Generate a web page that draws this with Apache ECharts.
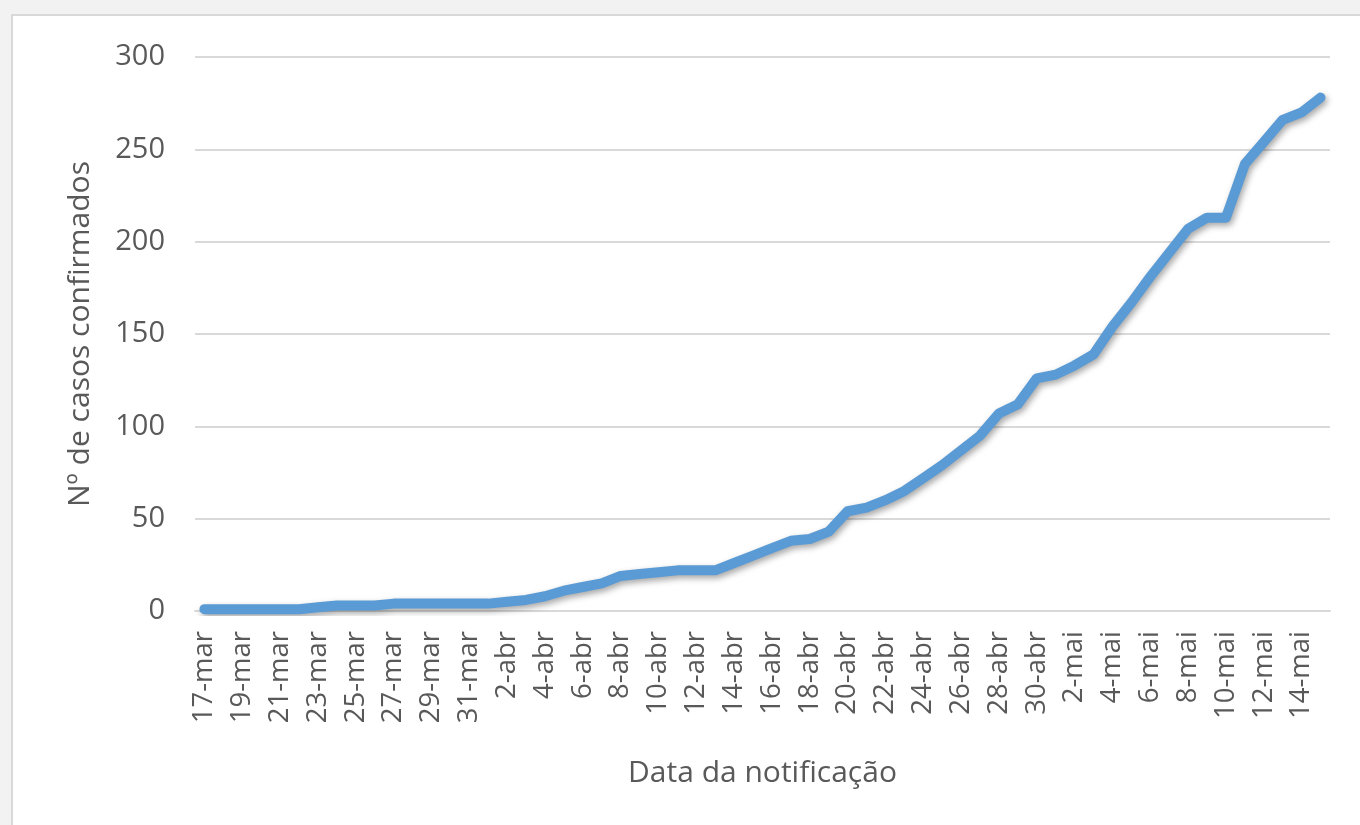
<!DOCTYPE html>
<html>
<head>
<meta charset="utf-8">
<script src="https://cdn.jsdelivr.net/npm/echarts@6/dist/echarts.min.js"></script>
<style>
    html, body { margin: 0; padding: 0; background: #f2f2f2; }
    #frame { position: absolute; left: 11px; top: 14px; width: 1349px; height: 811px;
             background: #ffffff; border-left: 2px solid #d9d9d9; border-top: 2px solid #d9d9d9; }
    #chart { position: absolute; left: 0; top: 0; width: 1360px; height: 825px; }
</style>
</head>
<body>
<div id="frame"></div>
<div id="chart"></div>
<script>
const marDays = ['17-mar', '18-mar', '19-mar', '20-mar', '21-mar', '22-mar', '23-mar', '24-mar',
    '25-mar', '26-mar', '27-mar', '28-mar', '29-mar', '30-mar', '31-mar']
const abrDays = ['1-abr', '2-abr', '3-abr', '4-abr', '5-abr', '6-abr', '7-abr', '8-abr', '9-abr', '10-abr',
    '11-abr', '12-abr', '13-abr', '14-abr', '15-abr', '16-abr', '17-abr', '18-abr', '19-abr', '20-abr',
    '21-abr', '22-abr', '23-abr', '24-abr', '25-abr', '26-abr', '27-abr', '28-abr', '29-abr', '30-abr']
const maiDays = ['1-mai', '2-mai', '3-mai', '4-mai', '5-mai', '6-mai', '7-mai', '8-mai', '9-mai', '10-mai',
    '11-mai', '12-mai', '13-mai', '14-mai', '15-mai']

// casos confirmados acumulados
const marCases = [1, 1, 1, 1, 1, 1, 2, 3, 3, 3, 4, 4, 4, 4, 4]
const abrCases = [4, 5, 6, 8, 11, 13, 15, 19, 20, 21, 22, 22, 22, 26, 30, 34, 38, 39, 43, 54,
    56, 60, 65, 72, 79, 87, 95, 107, 112, 126]
const maiCases = [128, 133, 139, 154, 167, 181, 194, 207, 213, 213, 242, 254, 266, 270, 278]

const yTicks = [0, 50, 100, 150, 200, 250, 300]

let dates = marDays.concat(abrDays, maiDays)
let cases = marCases.concat(abrCases, maiCases)

let myChart = echarts.init(document.getElementById('chart'))
const textColor = '#595959'
const fontFamily = "'Open Sans', 'Noto Sans', sans-serif"

let option = {
    animation: false,
    textStyle: { fontFamily: fontFamily },
    grid: {
        left: 195,
        right: 30,
        top: 57,
        bottom: 214,
    },
    xAxis: {
        type: 'category',
        data: dates,
        boundaryGap: true,
        name: 'Data da notificação',
        nameLocation: 'middle',
        nameGap: 147,
        nameTextStyle: { color: textColor, fontSize: 30, fontFamily: fontFamily },
        axisLine: { lineStyle: { color: '#d9d9d9', width: 2 } },
        axisTick: { interval: 1, length: 9, lineStyle: { color: '#d9d9d9', width: 2 } },
        axisLabel: {
            interval: 1,
            rotate: 90,
            margin: 20,
            color: textColor,
            fontSize: 27.5,
            fontFamily: fontFamily
        },
        splitLine: { show: false }
    },
    yAxis: {
        type: 'value',
        min: yTicks[0],
        max: yTicks[yTicks.length - 1],
        interval: 50,
        name: 'Nº de casos confirmados',
        nameLocation: 'middle',
        nameGap: 100,
        nameTextStyle: { color: textColor, fontSize: 30, fontFamily: fontFamily },
        axisLine: { show: false },
        axisTick: { show: false },
        axisLabel: { margin: 30, color: textColor, fontSize: 29, fontFamily: fontFamily },
        splitLine: { lineStyle: { color: '#d9d9d9', width: 2 } }
    },
    series: [{
        name: 'Casos confirmados',
        type: 'line',
        data: cases,
        symbol: 'none',
        smooth: false,
        lineStyle: {
            color: '#5b9bd5',
            width: 10,
            cap: 'round',
            join: 'round',
            shadowColor: 'rgba(0, 0, 0, 0.35)',
            shadowBlur: 6,
            shadowOffsetX: 2,
            shadowOffsetY: 3
        }
    }]
}
option && myChart.setOption(option)
</script>
</body>
</html>
